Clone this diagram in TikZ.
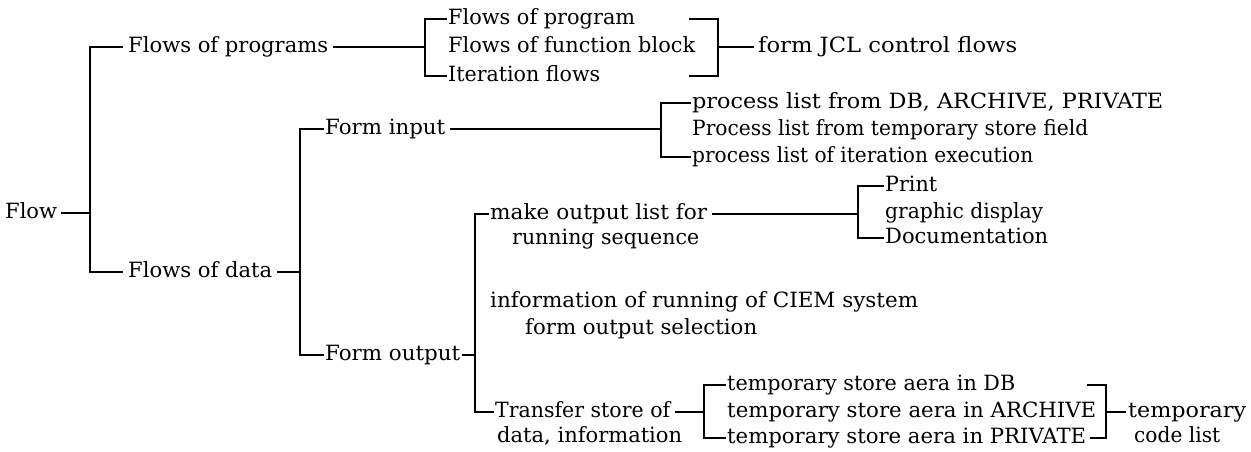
\documentclass[tikz,border=0pt]{standalone}
\usepackage{fontspec}
\setmainfont{DejaVu Serif}
\usetikzlibrary{calc}
% set a label at a given width, keeping its height
\newcommand\fw[2]{\resizebox{#1pt}{\height}{#2}}
\begin{document}
\fontsize{21}{25}\selectfont
\begin{tikzpicture}[x=1pt,y=-1pt,
  lbl/.style={anchor=mid west, inner sep=0pt},
  conn/.style={line width=1.5pt, line cap=rect}]
\useasboundingbox (0,0) rectangle (1251,451);

% ---- text ----
\node[lbl] (flow)   at (5,213)   {Flow};
\node[lbl] (fprogs) at (128,47)  {\fw{200}{Flows of programs}};
\node[lbl] (fprog1) at (448,19)  {\fw{187}{Flows of program}};
\node[lbl] (ffb)    at (448,47)  {\fw{247}{Flows of function block}};
\node[lbl] (fiter)  at (448,76)  {\fw{152}{Iteration flows}};
\node[lbl] (jcl)    at (758,47)  {\fw{259}{form JCL control flows}};
\node[lbl] (fdata)  at (128,272) {\fw{144}{Flows of data}};
\node[lbl] (finput) at (325,129) {\fw{120}{Form input}};
\node[lbl] (pl1)    at (692,103) {\fw{471}{process list from DB, ARCHIVE, PRIVATE}};
\node[lbl] (pl2)    at (692,130) {\fw{396}{Process list from temporary store field}};
\node[lbl] (pl3)    at (692,157) {\fw{341}{process list of iteration execution}};
\node[lbl] (fout)   at (325,355) {\fw{135}{Form output}};
\node[lbl] (mol)    at (490,214) {\fw{217}{make output list for}};
\node[lbl] (mol2)   at (512,239) {\fw{187}{running sequence}};
\node[lbl] (print)  at (885,186) {\fw{52}{Print}};
\node[lbl] (gdisp)  at (885,213) {\fw{158}{graphic display}};
\node[lbl] (doc)    at (885,238) {\fw{163}{Documentation}};
\node[lbl] (info)   at (490,302) {\fw{428}{information of running of CIEM system}};
\node[lbl] (info2)  at (525,329) {\fw{232}{form output selection}};
\node[lbl] (tsd)    at (495,412) {\fw{175}{Transfer store of}};
\node[lbl] (tsd2)   at (497,437) {\fw{185}{data, information}};
\node[lbl] (ts1)    at (727,385) {\fw{288}{temporary store aera in DB}};
\node[lbl] (ts2)    at (727,412) {\fw{369}{temporary store aera in ARCHIVE}};
\node[lbl] (ts3)    at (727,438) {\fw{359}{temporary store aera in PRIVATE}};
\node[lbl] (tmp)    at (1128,412){\fw{118}{temporary}};
\node[lbl] (cl)     at (1134,437){\fw{86}{code list}};

% ---- junction points ----
\coordinate (j0)  at (90,213);
\coordinate (j0t) at (90,47);
\coordinate (j0b) at (90,272);
\coordinate (bA)  at (425,47);
\coordinate (rAt) at (690,19);
\coordinate (rAb) at (690,76);
\coordinate (rA)  at (718,47);
\coordinate (j1)  at (300,272);
\coordinate (j1t) at (300,129);
\coordinate (j1b) at (300,355);
\coordinate (bB)  at (661,129);
\coordinate (j2)  at (475,355);
\coordinate (j2t) at (475,214);
\coordinate (j2b) at (475,412);
\coordinate (bC)  at (858,214);
\coordinate (bD)  at (704,412);
\coordinate (rDt) at (1088,385);
\coordinate (rD)  at (1106,412);

% ---- root ----
\draw[conn] ($(flow.mid east)+(4,0)$) -- (j0);
\draw[conn] ($(fprogs.mid west)+(-6,0)$) -- (j0t) -- (j0b) -- ($(fdata.mid west)+(-6,0)$);

% ---- flows of programs ----
\draw[conn] ($(fprogs.mid east)+(5,0)$) -- (bA);
\draw[conn] ($(fprog1.mid west)+(-2,0)$) -| (bA) |- ($(fiter.mid west)+(-2,0)$);
\draw[conn] (rAt) -| (rA) |- (rAb);
\draw[conn] (rA) -- ($(jcl.mid west)+(-5,0)$);

% ---- flows of data ----
\draw[conn] ($(fdata.mid east)+(5,0)$) -- (j1);
\draw[conn] ($(finput.mid west)+(-2,0)$) -- (j1t) -- (j1b) -- ($(fout.mid west)+(-2,0)$);

% ---- form input ----
\draw[conn] ($(finput.mid east)+(5,0)$) -- (bB);
\draw[conn] ($(pl1.mid west)+(-2,0)$) -| (bB) |- ($(pl3.mid west)+(-2,0)$);

% ---- form output ----
\draw[conn] ($(fout.mid east)+(2,0)$) -- (j2);
\draw[conn] ($(mol.mid west)+(-2,0)$) -- (j2t) -- (j2b) -- ($(tsd.mid west)+(-2,0)$);

% ---- output list ----
\draw[conn] ($(mol.mid east)+(5,0)$) -- (bC);
\draw[conn] ($(print.mid west)+(-2,0)$) -| (bC) |- ($(doc.mid west)+(-2,0)$);

% ---- transfer store ----
\draw[conn] ($(tsd.mid east)+(5,0)$) -- (bD);
\draw[conn] ($(ts1.mid west)+(-2,0)$) -| (bD) |- ($(ts3.mid west)+(-2,0)$);
\draw[conn] (rDt) -| (rD) |- ($(ts3.mid east)+(4,0)$);
\draw[conn] (rD) -- ($(tmp.mid west)+(-3,0)$);
\end{tikzpicture}
\end{document}
